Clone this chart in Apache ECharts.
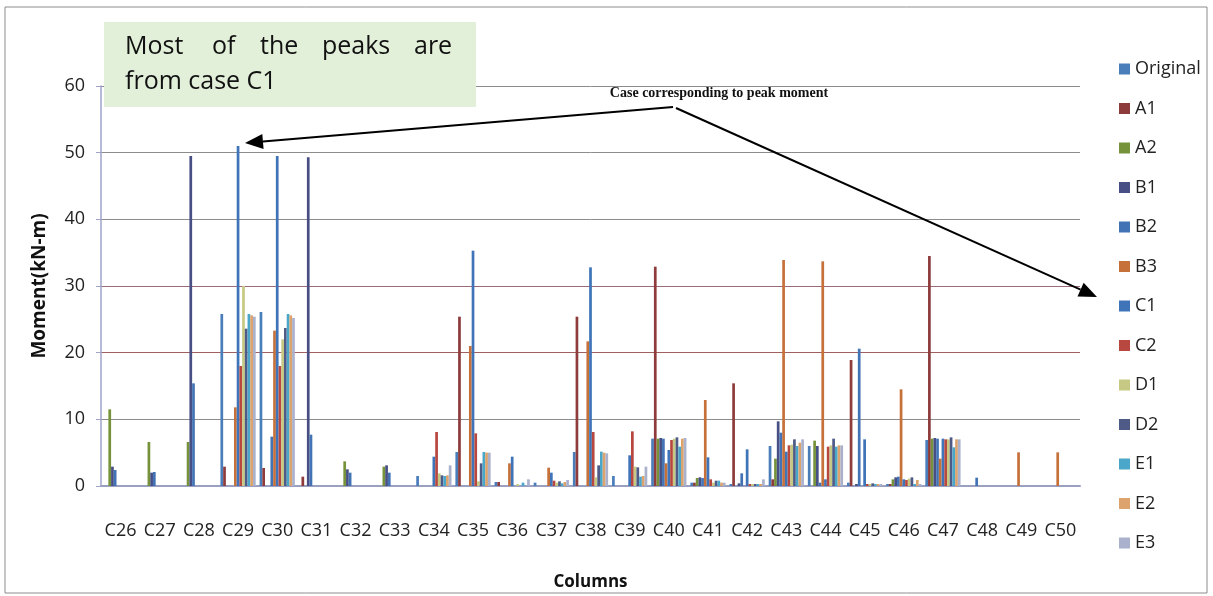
<!DOCTYPE html>
<html>
<head>
<meta charset="utf-8">
<script src="https://cdn.jsdelivr.net/npm/echarts/dist/echarts.min.js"></script>
<style>
html,body{margin:0;padding:0;background:#fff;}
#chart{width:1213px;height:596px;}
</style>
</head>
<body>
<div id="chart"></div>
<script>
// ---- data ----
const categories = ['C26','C27','C28','C29','C30','C31','C32','C33','C34','C35','C36','C37','C38','C39','C40','C41','C42','C43','C44','C45','C46','C47','C48','C49','C50'];
const seriesNames = ['Original','A1','A2','B1','B2','B3','C1','C2','D1','D2','E1','E2','E3'];
const yTicks = [0,10,20,30,40,50,60];

const original = [0,0,0,25.8,26.1,0,0,0,1.5,5.1,0.6,0.5,5.1,1.5,7.1,0.5,0.3,6.0,6.0,0.5,0.3,6.9,0,0,0];
const a1       = [0,0,0,2.9,2.7,1.4,0,0,0,25.4,0.6,0,25.4,0,32.9,0.5,15.4,1.0,0,18.9,0.3,34.5,0,0,0];
const a2       = [11.5,6.6,6.6,0,0,0,3.7,2.9,0,0,0,0,0,0,7.1,1.2,0,4.1,6.8,0,1.0,7.1,0,0,0];
const b1       = [2.9,2.0,49.5,0,0,49.3,2.5,3.1,0,0,0,0,0,0,7.2,1.3,0.4,9.7,6.0,0.3,1.3,7.2,0,0,0];
const b2       = [2.4,2.1,15.4,0,7.4,7.7,2.0,2.0,0,0,0,0,0,0,7.1,1.2,1.9,8.0,0.5,20.6,1.4,7.1,1.25,0,0];
const b3       = [0,0,0,11.8,23.3,0,0,0,0,21.0,3.4,2.75,21.7,0,3.4,12.9,0,33.9,33.7,0,14.5,4.1,0,5.05,5.05];
const c1       = [0,0,0,51.0,49.5,0,0,0,4.4,35.3,4.4,2.0,32.8,4.6,5.4,4.3,5.5,5.15,1.0,7.0,1.0,7.1,0,0,0];
const c2       = [0,0,0,18.0,18.0,0,0,0,8.1,7.9,0,0.8,8.1,8.2,6.9,1.0,0.3,6.1,5.9,0.3,0.9,7.0,0,0,0];
const d1       = [0,0,0,30.0,22.0,0,0,0,1.9,0.7,0.3,0.5,1.3,2.9,7.1,0.5,0.3,6.2,6.1,0.3,1.1,7.0,0,0,0];
const d2       = [0,0,0,23.6,23.7,0,0,0,1.6,3.4,0,0.7,3.1,2.8,7.3,0.8,0.3,7.0,7.1,0.4,1.3,7.3,0,0,0];
const e1       = [0,0,0,25.8,25.8,0,0,0,1.5,5.1,0.5,0.4,5.15,1.4,5.9,0.8,0.3,6.0,5.9,0.3,0.3,5.8,0,0,0];
const e2       = [0,0,0,25.6,25.6,0,0,0,1.6,5.0,0,0.6,5.0,1.5,7.1,0.5,0.3,6.5,6.1,0.3,0.9,7.0,0,0,0];
const e3       = [0,0,0,25.4,25.2,0,0,0,3.1,5.0,1.0,0.9,4.9,2.9,7.2,0.5,1.0,7.0,6.1,0.3,0.3,7.0,0,0,0];

const seriesData = [original,a1,a2,b1,b2,b3,c1,c2,d1,d2,e1,e2,e3];
const colors = ['#4a7ebb','#8e3b3b','#76933c','#474f84','#4273b5','#c6703a','#3f74b8','#b7473f','#c5c983','#4f5b86','#4ba7c9','#dca36c','#a9b1cd'];

// ---- chart ----
const chart = echarts.init(document.getElementById('chart'), null, {renderer:'canvas'});
const FONT = '"Open Sans", "Noto Sans", sans-serif';

function arrow(sx, sy, tx, ty, L, W) {
  const dx = tx - sx, dy = ty - sy, len = Math.hypot(dx, dy);
  const ux = dx / len, uy = dy / len, px = -uy, py = ux;
  const bx = tx - ux * L, by = ty - uy * L;
  return [
    {type:'line', shape:{x1:sx, y1:sy, x2:bx, y2:by}, style:{stroke:'#000', lineWidth:2}, z:100},
    {type:'polygon', shape:{points:[[tx,ty],[bx+px*W/2,by+py*W/2],[bx-px*W/2,by-py*W/2]]}, style:{fill:'#000'}, z:100}
  ];
}

const wordsLine1 = [['Most',125],['of',212],['the',260],['peaks',322],['are',414]];

const graphics = [
  {type:'rect', shape:{x:5, y:7, width:1202, height:586}, style:{fill:'none', stroke:'#8c8c8c', lineWidth:1}, z:-10, silent:true},
  {type:'rect', shape:{x:104, y:22, width:372, height:85}, style:{fill:'#e2efd9'}, z:50},
  ...wordsLine1.map(w => ({type:'text', x:w[1], y:47, style:{text:w[0], font:'25px "Open Sans", sans-serif', fill:'#111', textVerticalAlign:'middle'}, z:60})),
  {type:'text', x:125, y:82, style:{text:'from case C1', font:'25px "Open Sans", sans-serif', fill:'#111', textVerticalAlign:'middle'}, z:60},
  {type:'text', x:719, y:93, style:{text:'Case corresponding to peak moment', font:'bold 14px "Liberation Serif", "DejaVu Serif", serif', fill:'#111', textAlign:'center', textVerticalAlign:'middle'}, z:60},
  ...arrow(673, 107, 245, 143, 18, 15),
  ...arrow(676, 108, 1097, 297, 18, 15)
];

const option = {
  animation: false,
  color: colors,
  grid: {left:101, right:133, top:86, bottom:110, containLabel:false},
  legend: {
    orient:'vertical', left:1114, top:54,
    itemWidth:11, itemHeight:11, itemGap:19.5,
    icon:'rect',
    data: seriesNames,
    textStyle:{fontFamily:FONT, fontSize:18, color:'#222', lineHeight:20}
  },
  xAxis: {
    type:'category', data:categories,
    name:'Columns', nameLocation:'middle', nameGap:88,
    nameTextStyle:{fontFamily:FONT, fontWeight:'bold', fontSize:17, color:'#111'},
    axisLine:{show:true, lineStyle:{color:'#9aa0c0', width:2}},
    axisTick:{show:false},
    axisLabel:{fontFamily:FONT, fontSize:18, color:'#222', margin:36, interval:0}
  },
  yAxis: {
    type:'value', min:yTicks[0], max:yTicks[yTicks.length-1], interval:10,
    name:'Moment(kN-m)', nameLocation:'middle', nameGap:52, nameRotate:90,
    nameTextStyle:{fontFamily:FONT, fontWeight:'bold', fontSize:19, color:'#111'},
    axisLine:{show:true, lineStyle:{color:'#9fa3c9', width:1.5}},
    axisTick:{show:true, inside:false, length:5, lineStyle:{color:'#9fa3c9'}},
    axisLabel:{fontFamily:FONT, fontSize:18, color:'#222', margin:16},
    splitLine:{show:true, lineStyle:{color:['#9aa0c0','#8c8c8c','#a0605e','#9a6a78','#8c8c8c','#8c8c8c','#8c8c8c'], width:1}}
  },
  graphic: graphics,
  series: seriesNames.map((n, i) => ({
    name:n, type:'bar', data:seriesData[i],
    barGap:'0%', barCategoryGap:'10%',
    itemStyle:{color:colors[i]},
    emphasis:{disabled:true}
  }))
};
chart.setOption(option);
</script>
</body>
</html>
